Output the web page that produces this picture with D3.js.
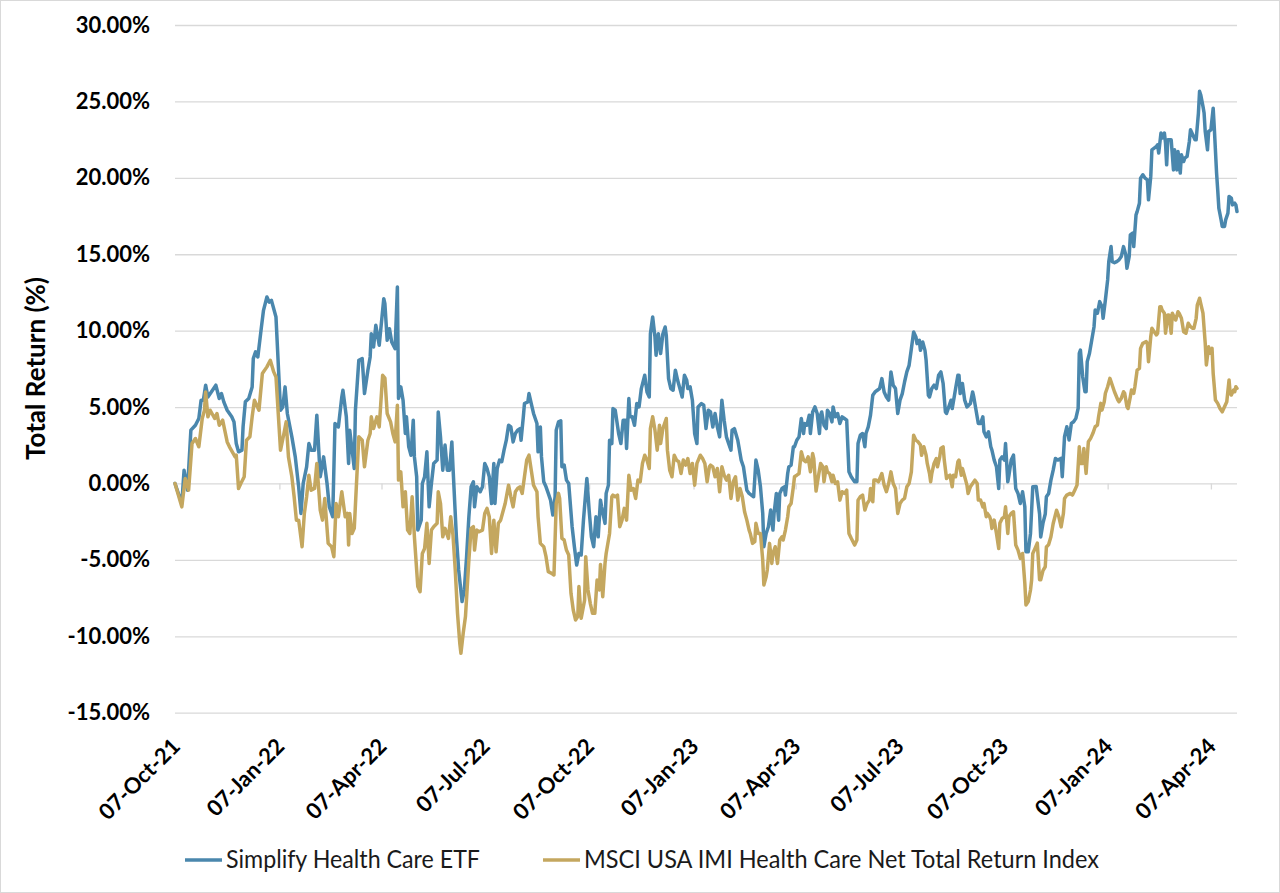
<!DOCTYPE html>
<html><head><meta charset="utf-8">
<script src="https://cdn.jsdelivr.net/npm/d3@7"></script>
<style>html,body{margin:0;padding:0;background:#fff;} svg{display:block;}</style>
</head><body>
<svg id="chart" width="1280" height="893"></svg>
<script>
// ---- data ----
const startDate = "2021-10-07";
const endDate = "2024-04-30";
const tickDates = ["2021-10-07","2022-01-07","2022-04-07","2022-07-07","2022-10-07","2023-01-07","2023-04-07","2023-07-07","2023-10-07","2024-01-07","2024-04-07"];
const yTicks = [-15,-10,-5,0,5,10,15,20,25,30];
const seriesNames = ["Simplify Health Care ETF","MSCI USA IMI Health Care Net Total Return Index"];
const yTitle = "Total Return (%)";

// days after startDate, and total return in %
const blueDays = [0,6,8,11,14,18,21,23,25,27,29,32,36,39,41,43,46,50,52,54,56,59,60,62,65,68,69,71,73,76,78,81,83,85,89,93,95,97,99,103,106,109,111,113,116,118,120,123,125,128,131,134,136,139,141,144,147,148,151,153,154,158,159,162,165,167,170,172,173,175,177,180,184,185,187,189,191,194,196,197,199,201,203,204,206,208,210,211,213,214,217,218,220,222,224,226,228,231,232,234,236,238,240,242,244,245,248,250,253,255,257,259,261,263,264,266,269,271,273,275,277,279,281,282,284,286,288,290,292,294,296,298,300,302,304,305,307,308,311,312,314,316,319,320,322,323,325,327,329,331,333,335,336,338,340,341,343,345,347,350,352,354,356,358,360,363,365,367,369,371,373,375,376,379,380,382,383,385,386,388,391,393,395,397,398,400,401,403,405,407,409,411,414,416,418,419,421,423,424,426,428,430,432,433,435,437,439,441,443,445,447,449,451,452,454,456,458,460,461,464,466,468,470,472,474,476,478,480,482,484,486,488,490,491,493,496,497,499,501,504,506,508,510,512,514,516,518,519,521,523,525,527,528,530,532,533,535,537,538,540,541,543,545,546,548,550,552,554,555,557,559,560,562,564,566,568,569,570,572,574,575,577,579,580,582,584,586,588,590,592,594,596,599,601,602,604,606,608,609,611,613,615,617,619,621,623,625,627,629,631,633,635,637,639,641,643,645,647,649,651,653,654,656,657,659,661,662,664,665,667,669,671,673,675,677,679,680,682,684,685,687,688,690,691,692,694,696,698,701,703,704,706,708,710,712,713,715,717,719,720,722,724,726,727,729,731,732,734,735,737,739,741,743,745,747,749,750,752,754,756,759,762,763,765,767,768,770,772,774,776,778,781,782,784,786,788,790,792,794,796,797,798,800,802,803,804,806,808,810,811,813,815,817,818,820,822,823,825,826,828,830,832,834,836,838,839,841,842,844,845,847,848,850,851,853,855,857,858,860,861,863,865,866,867,869,870,872,873,874,875,877,878,880,881,883,884,886,887,889,890,892,894,895,897,899,900,902,903,904,906,907,908,910,911,913,915,916,918,919,920,922,923,925,926,928,929,931,932,934,935,936];
const blueValues = [0.00,-1.31,0.87,-0.44,3.49,3.81,4.25,5.45,5.45,6.43,5.66,5.99,6.43,5.56,5.88,5.34,4.79,4.36,4.03,2.61,2.07,2.18,3.70,5.34,5.56,6.32,8.17,8.61,8.28,10.13,11.33,12.20,11.87,11.98,10.89,4.79,5.01,6.32,4.58,3.05,1.74,-0.22,-1.96,0.00,1.09,2.61,2.18,2.18,4.47,0.44,1.74,0.00,-1.53,-2.18,3.92,3.70,5.66,6.10,4.36,1.31,3.49,0.98,4.79,8.06,8.17,5.88,7.41,8.28,9.80,8.93,10.35,9.04,12.09,11.76,9.37,10.13,9.26,8.82,12.85,5.56,6.32,5.45,3.27,4.36,2.40,1.85,4.14,1.74,0.44,-3.05,-2.40,0.00,0.44,2.07,-1.53,0.00,1.31,1.53,4.68,3.05,0.87,2.51,0.87,0.87,2.72,1.09,-3.49,-5.66,-7.73,-6.97,-4.79,-2.18,-0.22,0.11,-1.53,-0.22,-0.54,-0.22,1.31,0.98,0.44,-1.31,1.31,-1.31,0.98,1.53,1.42,2.18,2.83,3.81,3.70,2.72,3.27,3.49,3.59,2.83,4.36,5.23,5.34,5.88,5.23,4.58,3.92,2.07,3.70,1.74,0.11,-0.22,-0.65,-1.09,-2.07,-0.87,3.49,4.03,4.10,1.09,1.20,0.22,0.00,-2.83,-4.14,-5.34,-4.58,-4.68,-2.40,0.33,-1.74,-3.49,-4.14,-2.18,-3.49,-1.09,-1.53,-2.61,-0.65,-0.11,2.83,2.61,4.90,4.79,3.27,2.61,4.14,4.14,2.29,5.56,4.36,4.36,3.81,5.23,5.01,6.21,7.08,5.99,5.66,9.80,10.89,9.59,8.39,9.80,8.50,9.80,10.24,9.69,6.86,6.21,6.10,7.41,6.75,6.21,5.66,7.08,6.75,6.21,6.32,5.45,3.27,2.61,5.01,5.23,5.12,3.59,4.79,4.68,3.70,4.58,3.70,3.05,5.45,4.14,3.05,2.61,2.18,3.49,3.59,2.83,2.40,1.53,1.09,-0.44,-0.65,-0.76,-0.87,1.53,0.87,-0.22,-1.96,-4.14,-3.27,-2.83,-1.74,-3.05,-1.96,-0.65,-2.40,-0.65,-0.33,-0.22,-0.76,0.65,1.09,1.20,2.40,2.40,2.83,3.05,4.25,3.27,3.92,3.81,4.47,3.27,4.68,5.01,4.58,3.27,4.47,4.68,3.81,3.59,4.79,4.58,4.03,5.01,4.36,4.58,3.92,4.36,4.25,4.14,0.76,0.44,0.11,0.11,2.61,3.16,3.27,2.40,3.27,3.70,4.47,5.77,5.99,6.10,6.21,6.86,5.99,5.66,5.45,7.30,6.43,6.21,4.58,5.45,5.88,6.64,7.30,7.73,8.82,9.91,9.59,9.15,9.37,8.71,9.26,8.71,8.06,5.77,5.66,6.21,6.43,6.21,7.08,7.30,6.54,4.68,4.58,5.01,5.45,4.90,5.77,6.21,7.08,7.08,5.88,6.54,5.45,5.01,5.23,5.99,5.66,4.79,3.92,3.92,4.36,3.38,3.05,3.38,2.40,2.18,1.53,1.09,-0.33,1.53,1.74,1.53,2.61,0.11,0.54,1.53,1.85,-0.33,-0.65,-1.31,-0.54,-1.53,-4.47,-4.47,-3.27,-0.22,-0.20,-2.00,-3.50,-2.60,-2.00,-0.87,-0.65,0.22,0.87,1.64,1.53,1.64,0.44,3.06,3.71,2.84,3.93,4.04,4.26,4.91,8.52,8.73,6.99,6.00,6.00,7.97,8.52,9.39,10.26,11.35,11.14,11.90,11.57,10.81,12.01,13.32,14.52,15.50,14.52,14.45,14.52,14.63,14.85,15.50,14.96,14.08,14.85,16.27,16.38,15.50,17.58,17.79,18.34,19.98,20.20,19.98,19.87,18.56,20.09,21.83,21.94,22.05,22.16,21.62,22.93,22.60,22.93,22.27,20.85,22.49,22.49,22.49,20.52,21.83,20.52,21.72,20.31,21.51,21.07,21.29,21.40,22.38,23.14,22.82,22.49,22.49,24.24,25.66,25.44,24.67,24.24,23.03,21.83,23.03,23.14,24.56,23.25,20.31,19.21,18.01,17.25,16.81,16.81,17.25,17.69,18.78,18.67,18.23,18.34,18.23,17.79];

const goldDays = [0,6,9,12,15,18,21,24,26,27,29,31,35,37,39,42,46,48,53,54,56,58,61,63,66,68,70,74,77,81,84,87,89,93,96,98,100,103,105,107,109,112,114,116,118,120,123,125,128,130,132,135,138,140,142,144,147,150,152,153,154,156,158,162,165,167,170,172,173,175,178,180,183,185,187,190,192,194,196,197,199,201,203,205,207,209,211,214,216,218,220,222,224,226,228,231,232,234,236,238,241,243,245,247,249,251,252,254,256,259,261,263,264,266,268,271,273,275,277,279,281,283,285,287,289,291,294,296,298,300,302,304,306,308,310,312,314,316,319,320,322,325,327,329,332,334,336,338,339,341,343,345,347,349,351,353,355,356,358,361,362,364,366,368,370,372,374,375,377,379,380,383,385,386,388,390,392,394,396,398,400,402,404,406,408,410,412,414,416,418,419,421,423,425,427,428,430,433,434,436,438,440,442,444,446,448,450,452,454,456,458,460,463,465,467,469,471,472,474,476,478,480,482,484,486,488,490,492,494,496,498,500,502,504,506,507,509,511,512,514,516,518,519,521,522,524,526,527,529,531,533,535,536,538,540,541,543,545,546,548,550,552,554,556,558,560,562,563,565,567,569,571,572,574,575,577,579,580,582,584,586,588,590,592,594,596,599,601,602,604,606,608,610,612,613,615,616,618,620,623,625,627,629,631,633,635,637,639,641,643,645,647,649,651,653,655,657,658,660,662,663,665,666,667,669,671,672,674,675,677,678,680,681,683,685,686,688,690,691,693,694,696,698,699,701,703,705,707,708,710,712,713,715,716,718,719,720,722,724,726,727,729,731,732,734,735,737,739,741,743,745,747,749,750,752,754,755,756,758,760,762,763,765,767,768,770,772,774,777,779,781,783,784,786,789,791,793,795,797,798,800,801,803,805,807,809,811,813,814,816,817,819,820,822,824,826,828,831,832,834,836,837,839,840,842,843,845,846,848,850,851,853,856,857,858,860,861,863,865,866,868,869,870,872,873,875,876,878,879,881,882,884,885,887,889,891,893,895,897,898,900,901,903,904,906,908,909,911,912,914,915,917,919,921,923,925,927,929,930,931,933,934,935,936];
const goldValues = [0.00,-1.53,0.33,-0.44,2.61,2.94,2.40,4.25,4.79,5.99,4.36,4.79,4.25,4.58,3.81,4.14,2.72,2.40,1.74,1.85,-0.33,0.00,0.44,2.83,3.05,4.36,5.45,4.79,7.19,7.63,8.06,7.30,6.97,2.18,3.27,4.03,1.74,0.44,-0.87,-2.40,-2.40,-4.14,-1.96,-0.87,0.54,-0.44,-0.33,1.31,-1.74,-2.40,-0.98,-3.92,-4.14,-4.79,-1.31,-2.18,-0.54,-2.18,-1.96,-4.03,-1.96,-3.27,-2.94,3.05,2.83,1.09,2.83,3.27,4.36,3.59,4.36,3.70,7.08,6.90,4.58,4.03,3.27,2.72,5.12,0.22,0.76,-1.53,-0.54,-3.05,-3.27,-0.87,-3.49,-6.75,-7.08,-4.58,-4.25,-2.61,-5.23,-3.05,-2.83,-2.61,-0.54,-1.31,-3.49,-2.94,-3.59,-2.18,-3.38,-5.66,-8.50,-10.46,-11.11,-9.80,-8.71,-5.01,-2.94,-2.83,-4.36,-3.05,-3.16,-3.05,-1.96,-1.63,-2.18,-4.58,-2.40,-4.47,-2.61,-2.40,-1.85,-1.31,-0.11,-0.87,-1.53,-0.54,-0.33,-0.22,-0.65,0.44,1.53,1.85,0.87,-0.11,-0.54,-2.18,-3.92,-4.14,-4.79,-5.77,-5.88,-5.99,-1.31,-0.65,-0.98,-3.59,-3.70,-4.36,-4.68,-7.19,-8.28,-8.93,-8.71,-6.75,-8.82,-7.63,-4.79,-6.97,-7.84,-8.50,-8.50,-6.32,-6.97,-5.30,-7.41,-5.23,-4.58,-3.27,-0.87,-0.76,-0.87,-0.76,-2.83,-2.40,-1.63,-2.40,0.54,-0.44,-0.33,-0.98,0.22,0.11,1.31,1.85,1.53,0.98,3.59,4.36,3.49,2.18,3.81,2.61,3.59,4.25,2.18,0.87,0.44,1.85,1.53,1.42,0.65,1.53,1.20,1.63,0.65,1.31,-0.11,1.31,1.85,1.63,1.31,0.11,1.09,1.20,1.09,0.44,0.98,-0.54,1.09,0.54,0.22,0.54,-0.98,0.11,0.44,-1.09,-0.33,-0.87,-1.85,-2.40,-3.05,-3.27,-3.92,-3.81,-2.61,-3.27,-3.27,-5.01,-6.64,-6.10,-5.66,-3.92,-5.23,-4.58,-4.14,-5.23,-3.70,-3.49,-3.70,-3.05,-2.18,-1.53,-1.31,-0.22,0.44,0.54,0.65,2.07,1.53,1.42,1.74,0.76,1.96,1.63,-0.50,0.44,1.31,1.09,0.11,1.09,0.76,0.65,0.11,0.54,0.00,0.11,-1.09,-0.54,-0.65,-0.44,-3.27,-3.59,-4.03,-3.70,-1.09,-0.87,-0.76,-1.74,-1.31,-1.09,-0.33,-1.20,0.22,0.22,0.11,0.65,-0.11,-0.54,0.00,0.76,0.00,-0.33,-1.96,-1.31,-1.09,-0.98,-0.22,0.00,0.76,3.16,2.83,2.72,2.51,1.85,2.40,1.85,1.31,0.65,0.11,0.65,1.31,1.63,1.09,1.74,2.29,2.40,1.53,0.33,0.44,0.54,-0.22,0.54,0.44,1.42,1.53,0.54,0.98,0.44,-0.11,-0.65,-0.22,0.00,0.22,0.00,-1.09,-1.09,-1.53,-1.31,-2.18,-1.96,-2.18,-2.40,-2.94,-2.40,-3.27,-4.25,-2.61,-2.29,-2.18,-1.53,-3.27,-2.18,-1.96,-1.85,-4.03,-4.36,-4.90,-4.58,-6.54,-7.95,-7.73,-6.97,-6.32,-4.58,-4.25,-3.90,-6.30,-6.30,-5.70,-5.45,-4.16,-4.00,-3.49,-2.62,-1.75,-2.18,-2.84,-1.97,-0.98,-0.76,-0.65,-0.76,-0.44,-0.11,2.40,1.31,1.31,2.29,0.66,2.73,2.95,3.28,3.71,3.82,4.37,5.24,4.80,5.35,5.90,6.33,6.88,6.44,6.00,5.46,5.35,5.57,6.00,5.90,5.02,4.91,5.68,6.11,5.90,6.33,7.42,7.53,8.84,9.17,9.28,9.17,7.97,9.61,10.15,9.93,9.72,9.83,11.57,11.57,11.35,11.14,9.83,11.03,11.03,9.83,11.14,10.81,10.70,11.24,11.14,10.81,9.93,9.83,10.48,10.26,10.15,10.15,10.81,11.68,12.12,11.79,11.14,9.17,7.75,8.95,8.52,8.84,7.21,5.46,5.24,4.91,4.69,5.02,5.35,6.77,5.90,5.79,6.11,6.00,6.33,6.22];

const colors = ["#4a87ad", "#c4a75f"];

// ---- drawing ----
const svg = d3.select("#chart");
const parse = d3.utcParse("%Y-%m-%d");
const t0 = parse(startDate);
const fmtDate = d3.utcFormat("%d-%b-%y");

const x = d3.scaleUtc().domain([t0, parse(endDate)]).range([175, 1237]);
const y = d3.scaleLinear().domain([-15, 30]).range([712.7, 25]);

// chart frame
svg.append("rect").attr("x", 0.5).attr("y", 0.5).attr("width", 1279).attr("height", 892)
  .attr("fill", "#fff").attr("stroke", "#d9d9d9");

// y axis with gridlines
const yAxis = svg.append("g").attr("transform", "translate(175,0)")
  .call(d3.axisLeft(y).tickValues(yTicks).tickSize(-(1237 - 175)).tickPadding(25)
    .tickFormat(v => v.toFixed(2) + "%"));
yAxis.select(".domain").remove();
yAxis.selectAll("line").attr("stroke", "#d9d9d9").attr("stroke-width", 1.3);
yAxis.selectAll("text").attr("font-family", "Lato, 'Open Sans', sans-serif")
  .attr("font-weight", 700).attr("font-size", 22).attr("fill", "#000");

// x axis tick marks on the zero line
const tickDateObjs = tickDates.map(parse);
const xTickAxis = svg.append("g").attr("transform", `translate(0,${y(0)})`)
  .call(d3.axisBottom(x).tickValues(tickDateObjs).tickSize(6).tickFormat(""));
xTickAxis.select(".domain").remove();
xTickAxis.selectAll("line").attr("stroke", "#d9d9d9").attr("stroke-width", 1.3);

// x labels at the bottom, rotated
const xLabAxis = svg.append("g").attr("transform", `translate(0,${y(-15)})`)
  .call(d3.axisBottom(x).tickValues(tickDateObjs).tickSize(0).tickFormat(fmtDate));
xLabAxis.select(".domain").remove();
xLabAxis.selectAll("text")
  .attr("x", 0).attr("y", 0).attr("dy", 0)
  .attr("text-anchor", "end")
  .attr("transform", "translate(6,35) rotate(-45)")
  .attr("font-family", "Lato, 'Open Sans', sans-serif")
  .attr("font-weight", 700).attr("font-size", 22).attr("fill", "#000");

// y title
svg.append("text").attr("transform", "translate(45,368.5) rotate(-90)")
  .attr("text-anchor", "middle")
  .attr("font-family", "Lato, 'Open Sans', sans-serif")
  .attr("font-weight", 700).attr("font-size", 26).attr("fill", "#000")
  .text(yTitle);

// series
const series = [
  blueDays.map((d, i) => ({date: d3.utcDay.offset(t0, d), value: blueValues[i]})),
  goldDays.map((d, i) => ({date: d3.utcDay.offset(t0, d), value: goldValues[i]}))
];
const line = d3.line().x(d => x(d.date)).y(d => y(d.value));
series.forEach((s, i) => {
  svg.append("path").datum(s).attr("d", line)
    .attr("fill", "none").attr("stroke", colors[i]).attr("stroke-width", 3.5)
    .attr("stroke-linejoin", "round").attr("stroke-linecap", "round");
});

// legend
const legend = [
  {x1: 185, x2: 222, tx: 226, tl: 254},
  {x1: 543, x2: 580, tx: 584, tl: 515}
];
legend.forEach((l, i) => {
  svg.append("line").attr("x1", l.x1).attr("x2", l.x2).attr("y1", 860).attr("y2", 860)
    .attr("stroke", colors[i]).attr("stroke-width", 3.5);
  svg.append("text").attr("x", l.tx).attr("y", 867.5)
    .attr("font-family", "Lato, 'Open Sans', sans-serif").attr("font-size", 25)
    .attr("fill", "#1a1a1a")
    .attr("textLength", l.tl).attr("lengthAdjust", "spacingAndGlyphs")
    .text(seriesNames[i]);
});
</script>
</body></html>
